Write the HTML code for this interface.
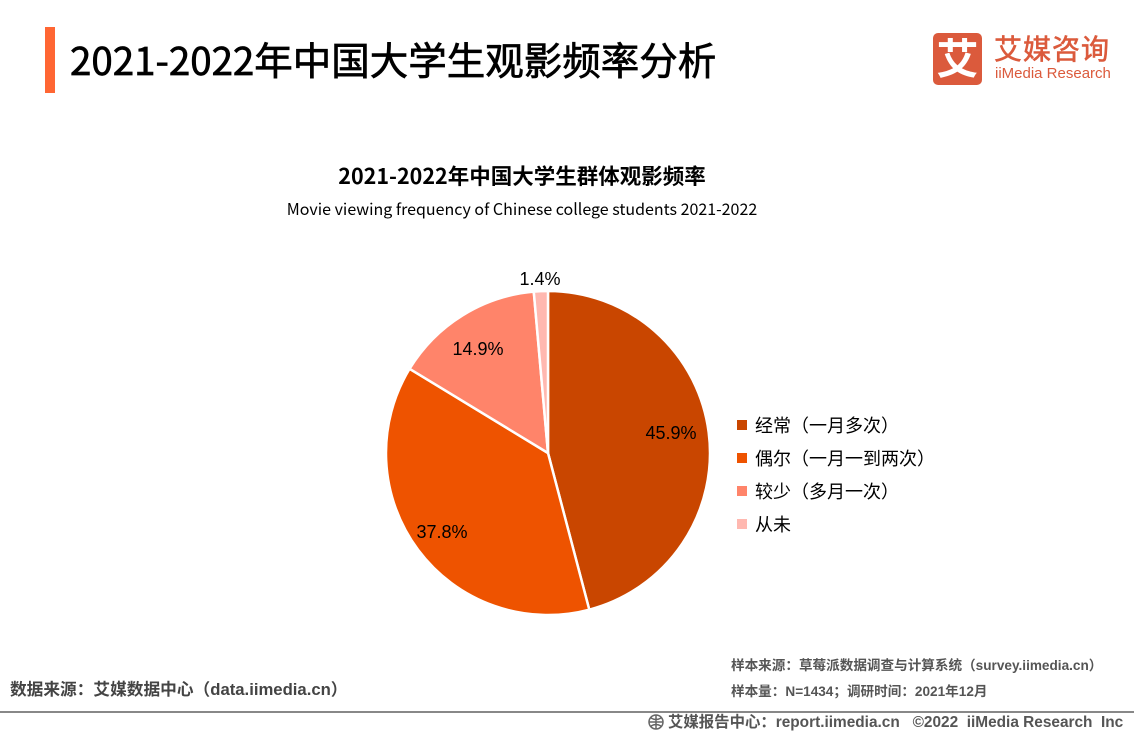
<!DOCTYPE html>
<html><head><meta charset="utf-8">
<style>
html,body{margin:0;padding:0;background:#fff;}
body{width:1134px;height:737px;position:relative;overflow:hidden;font-family:"Liberation Sans","Noto Sans CJK SC",sans-serif;}
.abs{position:absolute;white-space:nowrap;}
</style></head><body>
<div class="abs" style="left:45px;top:27px;width:10px;height:66px;background:#FF6633;"></div>
<div class="abs" style="left:70px;top:34px;font-size:38.5px;line-height:50px;color:#000;font-weight:normal;-webkit-text-stroke:0.7px #000;font-family:'Noto Sans CJK SC','Liberation Sans',sans-serif;">2021-2022年中国大学生观影频率分析</div>

<div class="abs" style="left:933px;top:33px;width:49px;height:52px;background:#DB5A3C;border-radius:5px;"></div>
<div class="abs" style="left:933px;top:31px;width:49px;height:52px;text-align:center;font-size:42px;line-height:52px;color:#fff;font-weight:bold;font-family:'Noto Sans CJK SC',sans-serif;">艾</div>
<div class="abs" style="left:994px;top:29px;font-size:28px;line-height:38px;color:#DB5A3C;font-weight:normal;-webkit-text-stroke:0.6px #DB5A3C;font-family:'Noto Sans CJK SC',sans-serif;letter-spacing:1px;">艾媒咨询</div>
<div class="abs" style="left:995px;top:64px;font-size:15px;line-height:20px;color:#DB5A3C;font-family:'Liberation Sans',sans-serif;">iiMedia Research</div>

<div class="abs" style="left:0;width:1044px;top:161px;text-align:center;font-size:21.5px;line-height:30px;color:#000;font-weight:bold;font-family:'Noto Sans CJK SC','Liberation Sans',sans-serif;">2021-2022年中国大学生群体观影频率</div>
<div class="abs" style="left:0;width:1044px;top:198px;text-align:center;font-size:16px;line-height:21px;color:#000;font-family:'Noto Sans CJK SC','Liberation Sans',sans-serif;">Movie viewing frequency of Chinese college students 2021-2022</div>

<svg class="abs" style="left:0;top:0;" width="1134" height="737">
<g stroke="#fff" stroke-width="2.5" stroke-linejoin="round">
<path d="M548,453 L548,291 A162,162 0 0 1 589.28,609.65 Z" fill="#C94600"/>
<path d="M548,453 L589.28,609.65 A162,162 0 0 1 409.6,368.78 Z" fill="#EE5300"/>
<path d="M548,453 L409.6,368.78 A162,162 0 0 1 533.77,291.63 Z" fill="#FF846A"/>
<path d="M548,453 L533.77,291.63 A162,162 0 0 1 548,291 Z" fill="#FFB8B0"/>
</g>
<g font-family="Liberation Sans, Noto Sans CJK SC, sans-serif" font-size="18" fill="#000" text-anchor="middle">
<text x="671" y="439">45.9%</text>
<text x="442" y="538">37.8%</text>
<text x="478" y="355">14.9%</text>
<text x="540" y="285">1.4%</text>
</g>
<g>
<rect x="737" y="420" width="10" height="10" fill="#C94600"/>
<rect x="737" y="453" width="10" height="10" fill="#EE5300"/>
<rect x="737" y="486" width="10" height="10" fill="#FF846A"/>
<rect x="737" y="519" width="10" height="10" fill="#FFB8B0"/>
</g>
<g font-family="Liberation Sans, Noto Sans CJK SC, sans-serif" font-size="18" fill="#000">
<text x="755" y="432">经常（一月多次）</text>
<text x="755" y="465">偶尔（一月一到两次）</text>
<text x="755" y="498">较少（多月一次）</text>
<text x="755" y="531">从未</text>
</g>
<rect x="0" y="711" width="1134" height="2" fill="#888"/>
<g transform="translate(648,714)" fill="none" stroke="#666" stroke-width="1.5">
<circle cx="8" cy="8" r="7"/>
<path d="M1,8 H15 M8,1 V15 M3,4 Q8,7 13,4 M3,12 Q8,9 13,12"/>
</g>
</svg>

<div class="abs" style="left:10px;top:679px;font-size:16.7px;line-height:22px;color:#444;font-weight:bold;">数据来源：艾媒数据中心（data.iimedia.cn）</div>
<div class="abs" style="left:731px;top:656px;font-size:13.6px;line-height:20px;color:#555;font-weight:bold;">样本来源：草莓派数据调查与计算系统（survey.iimedia.cn）</div>
<div class="abs" style="left:731px;top:682px;font-size:13.6px;line-height:20px;color:#555;font-weight:bold;">样本量：N=1434；调研时间：2021年12月</div>
<div class="abs" style="left:668px;top:712px;font-size:15.4px;line-height:22px;color:#555;font-weight:bold;">艾媒报告中心：report.iimedia.cn&nbsp;&nbsp;&nbsp;©2022&nbsp;&nbsp;iiMedia Research&nbsp;&nbsp;Inc</div>
</body></html>
